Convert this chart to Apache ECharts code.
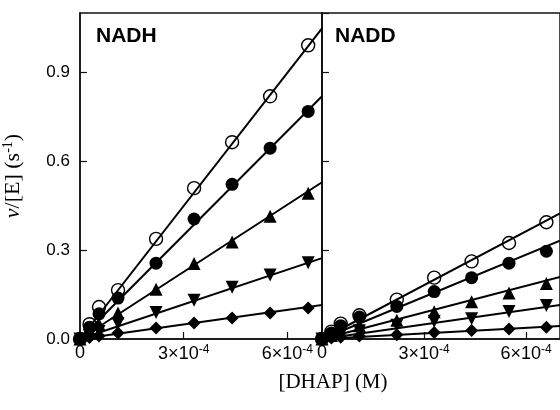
<!DOCTYPE html>
<html>
<head>
<meta charset="utf-8">
<script src="https://cdn.jsdelivr.net/npm/echarts@6/dist/echarts.min.js"></script>
<style>
html, body {margin: 0; padding: 0; background: #fff;}
#main {width: 560px; height: 410px;}
</style>
</head>
<body>
<div id="main"></div>
<script>
// [DHAP] (M) where the rates were measured
const dhap = [0, 2.75e-5, 5.5e-5, 1.1e-4, 2.2e-4, 3.3e-4, 4.4e-4, 5.5e-4, 6.6e-4];

// NADH panel, v/[E] (s^-1), one array per symbol
const nadhOpen    = [0, 0.05, 0.108, 0.165, 0.338, 0.509, 0.664, 0.819, 0.991];
const nadhFilled  = [0, 0.04, 0.085, 0.138, 0.256, 0.405, 0.522, 0.644, 0.768];
const nadhUp      = [0, 0.025, 0.05, 0.088, 0.168, 0.255, 0.327, 0.414, 0.492];
const nadhDown    = [0, 0.012, 0.025, 0.052, 0.089, 0.131, 0.175, 0.216, 0.257];
const nadhDiamond = [0, 0.005, 0.01, 0.02, 0.037, 0.054, 0.071, 0.088, 0.105];

// NADD panel
const naddOpen    = [0, 0.025, 0.052, 0.08, 0.133, 0.207, 0.262, 0.324, 0.394];
const naddFilled  = [0, 0.02, 0.045, 0.074, 0.11, 0.16, 0.207, 0.256, 0.296];
const naddUp      = [0, 0.012, 0.025, 0.045, 0.063, 0.092, 0.126, 0.155, 0.187];
const naddDown    = [0, 0.008, 0.015, 0.028, 0.046, 0.06, 0.068, 0.093, 0.113];
const naddDiamond = [0, 0.003, 0.006, 0.01, 0.014, 0.022, 0.029, 0.034, 0.04];

// fitted lines: from the origin to the end of the axis
const fitX = [0, 7e-4];
const nadhFitEnd = [1.048, 0.819, 0.529, 0.273, 0.115];
const naddFitEnd = [0.424, 0.332, 0.209, 0.115, 0.044];

const panelNames = ['NADH', 'NADD'];

const ink = '#111';
const markers = [
    {symbol: 'circle', size: 13, rotate: 0, hollow: true},
    {symbol: 'circle', size: 13, rotate: 0, hollow: false},
    {symbol: 'triangle', size: 13, rotate: 0, hollow: false},
    {symbol: 'triangle', size: 13, rotate: 180, hollow: false},
    {symbol: 'diamond', size: 13, rotate: 0, hollow: false}
];

function pairs(ys) {
    return dhap.map(function (x, i) { return [x, ys[i]]; });
}

function xLabel(v) {
    let n = Math.round(v * 1e4);
    if (n === 0) return '0';
    return n + '×10{sup|-4}';
}

const myChart = echarts.init(document.getElementById('main'));

let grids = [], xAxes = [], yAxes = [], series = [];
[0, 1].forEach(function (p) {
    grids.push({
        left: 80 + p * 242, top: 13, width: 242, height: 326,
        show: true, borderColor: ink, borderWidth: 1.5
    });
    xAxes.push({
        type: 'value', gridIndex: p, min: 0, max: 7e-4, interval: 3e-4,
        splitLine: {show: false},
        axisLine: {lineStyle: {color: ink, width: 1.5}},
        axisTick: {inside: true, length: 7, lineStyle: {color: ink, width: 1.2}},
        axisLabel: {
            showMaxLabel: false, margin: 5,
            textStyle: {fontSize: 18, color: '#000'},
            fontSize: 18, color: '#000',
            formatter: xLabel,
            rich: {
                sup: {fontSize: 12, color: '#000', padding: [0, 0, 8, 0]}
            }
        }
    });
    yAxes.push({
        type: 'value', gridIndex: p, min: 0, max: 1.1, interval: 0.3,
        splitLine: {show: false},
        axisLine: {lineStyle: {color: ink, width: 1.5}},
        axisTick: {inside: true, length: 7, lineStyle: {color: ink, width: 1.2}},
        axisLabel: {
            show: p === 0, showMaxLabel: false, margin: 10,
            fontSize: 17, color: '#000',
            formatter: function (v) { return v.toFixed(1); }
        },
        name: p === 0 ? '{i|ν}/[E] (s{sup|-1})' : '',
        nameLocation: 'middle', nameGap: 55, nameRotate: 90,
        nameTextStyle: {
            fontFamily: 'Liberation Serif', fontSize: 22, color: '#000',
            rich: {
                i: {fontFamily: 'Liberation Serif', fontSize: 22, fontStyle: 'italic', color: '#000'},
                sup: {fontFamily: 'Liberation Serif', fontSize: 14, color: '#000', padding: [0, 0, 10, 0]}
            }
        }
    });
});

const panels = [
    {ys: [nadhOpen, nadhFilled, nadhUp, nadhDown, nadhDiamond], fit: nadhFitEnd},
    {ys: [naddOpen, naddFilled, naddUp, naddDown, naddDiamond], fit: naddFitEnd}
];

panels.forEach(function (panel, p) {
    panel.fit.forEach(function (end, k) {
        series.push({
            type: 'line', xAxisIndex: p, yAxisIndex: p,
            data: [[fitX[0], 0], [fitX[1], end]],
            showSymbol: false, silent: true,
            lineStyle: {color: '#000', width: 2}
        });
    });
    panel.ys.forEach(function (ys, k) {
        let m = markers[k];
        series.push({
            type: 'scatter', xAxisIndex: p, yAxisIndex: p,
            data: pairs(ys),
            symbol: m.symbol, symbolSize: m.size, symbolRotate: m.rotate,
            clip: false,
            itemStyle: m.hollow
                ? {color: 'rgba(255,255,255,0)', borderColor: '#000', borderWidth: 1.4, opacity: 1}
                : {color: '#000', opacity: 1}
        });
    });
});

let option = {
    animation: false,
    grid: grids,
    xAxis: xAxes,
    yAxis: yAxes,
    series: series,
    graphic: [
        {type: 'text', left: 96, top: 26, style: {text: panelNames[0], font: 'bold 21px "Liberation Sans"', fill: '#000'}},
        {type: 'text', left: 335, top: 26, style: {text: panelNames[1], font: 'bold 21px "Liberation Sans"', fill: '#000'}},
        {type: 'text', x: 333, y: 382, style: {text: '[DHAP] (M)', font: '21px "Liberation Serif"', fill: '#000', textAlign: 'center', textVerticalAlign: 'middle'}}
    ]
};
myChart.setOption(option);
</script>
</body>
</html>
